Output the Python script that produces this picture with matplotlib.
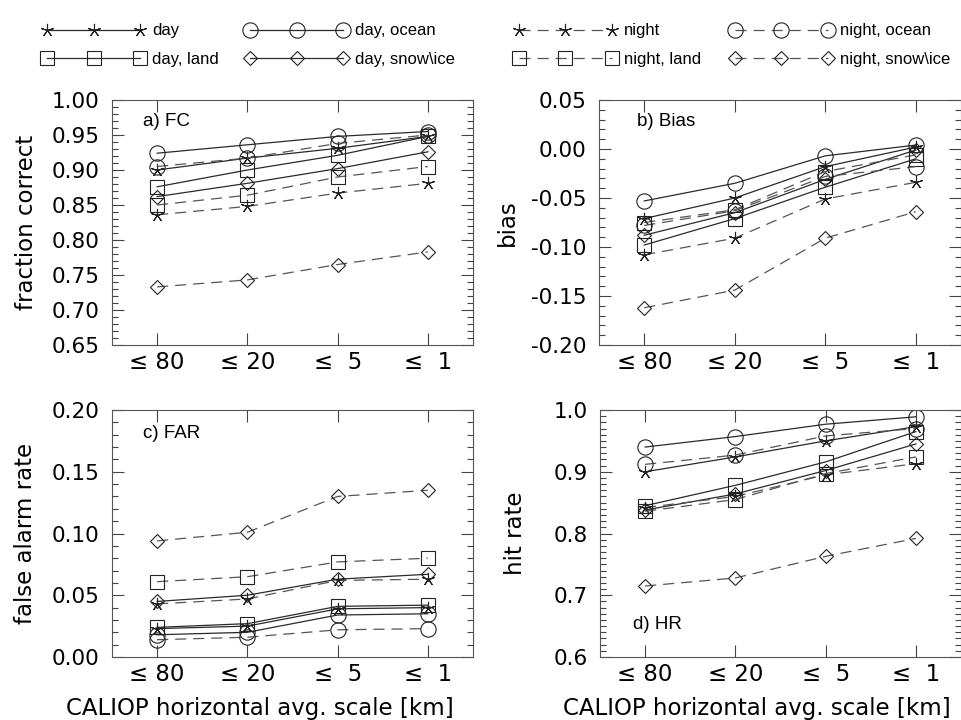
import numpy as np
import matplotlib
matplotlib.use("Agg")
import matplotlib.pyplot as plt
from matplotlib.ticker import FixedLocator, MultipleLocator

plt.rcParams["font.family"] = ["DejaVu Sans"]
plt.rcParams["axes.unicode_minus"] = False
plt.rcParams["lines.scale_dashes"] = False

# CALIOP averaging scales on the x axis
scales = ["≤ 80", "≤ 20", "≤  5", "≤  1"]

series = ["day", "day, ocean", "day, land", "day, snow\\ice",
          "night", "night, ocean", "night, land", "night, snow\\ice"]

# rows follow the order of `series`
fc_vals = [
    [0.900, 0.917, 0.931, 0.948],
    [0.924, 0.936, 0.948, 0.955],
    [0.876, 0.900, 0.921, 0.948],
    [0.862, 0.881, 0.902, 0.926],
    [0.836, 0.848, 0.867, 0.881],
    [0.905, 0.917, 0.938, 0.950],
    [0.850, 0.864, 0.890, 0.905],
    [0.733, 0.743, 0.765, 0.783],
]
bias_vals = [
    [-0.071, -0.050, -0.018, 0.002],
    [-0.053, -0.035, -0.007, 0.004],
    [-0.098, -0.071, -0.039, -0.010],
    [-0.088, -0.065, -0.031, -0.001],
    [-0.108, -0.091, -0.051, -0.034],
    [-0.078, -0.063, -0.028, -0.018],
    [-0.075, -0.062, -0.023, -0.006],
    [-0.162, -0.144, -0.091, -0.064],
]
far_vals = [
    [0.023, 0.025, 0.039, 0.040],
    [0.018, 0.020, 0.034, 0.035],
    [0.024, 0.027, 0.041, 0.042],
    [0.045, 0.050, 0.063, 0.067],
    [0.043, 0.047, 0.062, 0.063],
    [0.014, 0.016, 0.022, 0.023],
    [0.061, 0.065, 0.077, 0.080],
    [0.094, 0.101, 0.130, 0.135],
]
hr_vals = [
    [0.900, 0.924, 0.950, 0.973],
    [0.940, 0.957, 0.977, 0.989],
    [0.845, 0.878, 0.916, 0.965],
    [0.838, 0.864, 0.902, 0.945],
    [0.842, 0.860, 0.895, 0.913],
    [0.912, 0.927, 0.958, 0.970],
    [0.836, 0.855, 0.897, 0.924],
    [0.715, 0.728, 0.763, 0.792],
]

# marker per surface type, line style per day/night
marker_style = {
    "all": dict(marker=(5, 2, 0), markersize=9.5),
    "ocean": dict(marker="o", markersize=11),
    "land": dict(marker="s", markersize=10),
    "snow": dict(marker="D", markersize=7.2),
}
surfaces = ["all", "ocean", "land", "snow"]

panels = [
    # data, label, ylabel, ylim, major, fmt, box(px), tag pos, ylabel x, xlabel pos
    (fc_vals, "a) FC", "fraction correct", (0.65, 1.00), 0.05, "%.2f",
     (112, 100, 473, 345), (0.086, 0.911), -0.204, None),
    (bias_vals, "b) Bias", "bias", (-0.20, 0.05), 0.05, "%.2f",
     (599, 100, 961, 345), (0.106, 0.911), -0.222, None),
    (far_vals, "c) FAR", "false alarm rate", (0.0, 0.20), 0.05, "%.2f",
     (112, 410, 473, 657), (0.086, 0.903), -0.208, (0.41, -0.162)),
    (hr_vals, "d) HR", "hit rate", (0.6, 1.0), 0.1, "%.1f",
     (600, 410, 961, 657), (0.092, 0.13), -0.202, (0.435, -0.162)),
]

W, H = 962, 720
fig = plt.figure(figsize=(W / 100, H / 100), dpi=100)
x = np.arange(len(scales))
handles = {}

for vals, tag, ylab, ylim, major, fmt, box, tagpos, ylx, xlpos in panels:
    x0, y0, x1, y1 = box
    ax = fig.add_axes([x0 / W, 1 - y1 / H, (x1 - x0) / W, (y1 - y0) / H])
    for i, name in enumerate(series):
        night = name.startswith("night")
        surf = surfaces[i % 4]
        color = "#555555" if night else "#2a2a2a"
        ln, = ax.plot(x, vals[i], color=color, lw=0.9,
                      linestyle=(0, (8, 5)) if night else "-",
                      markerfacecolor="none", markeredgecolor="#222222",
                      markeredgewidth=0.8, **marker_style[surf])
        handles.setdefault(name, ln)

    ax.set_xlim(-0.5, 3.5)
    ax.set_ylim(*ylim)
    ax.set_xticks(x)
    ax.set_xticklabels(scales, fontsize=16.5)
    ticks = np.round(np.arange(ylim[0], ylim[1] + major / 2, major), 2) + 0.0
    ax.yaxis.set_major_locator(FixedLocator(ticks))
    ax.set_yticklabels([fmt % t for t in ticks], fontsize=15.5)
    ax.yaxis.set_minor_locator(MultipleLocator(0.01))
    ax.tick_params(which="both", direction="in", top=True, right=True,
                   color="#444444", width=0.8)
    ax.tick_params(which="major", length=8.5)
    ax.tick_params(which="minor", length=4)
    ax.tick_params(axis="x", pad=4)
    ax.tick_params(axis="y", pad=9)
    for sp in ax.spines.values():
        sp.set_color("#555555")
        sp.set_linewidth(0.8)

    ax.set_ylabel(ylab, fontsize=16.5)
    ax.yaxis.set_label_coords(ylx, 0.5)
    if xlpos is not None:
        ax.set_xlabel("CALIOP horizontal avg. scale [km]", fontsize=16.5)
        ax.xaxis.set_label_coords(*xlpos)

    ax.text(tagpos[0], tagpos[1], tag, transform=ax.transAxes,
            ha="left", va="center", fontsize=13.5,
            family=["Liberation Sans", "DejaVu Sans"])

# key across the top, four columns of two entries each
columns = [
    (["day", "day, land"], 0.0437),
    (["day, ocean", "day, snow\\ice"], 0.2547),
    (["night", "night, land"], 0.5343),
    (["night, ocean", "night, snow\\ice"], 0.7588),
]
for names, xa in columns:
    fig.legend([handles[n] for n in names], names, loc="upper left",
               bbox_to_anchor=(xa, 0.9675), numpoints=3, frameon=False,
               handlelength=6.18, handletextpad=0.42, labelspacing=0.83,
               borderpad=0, borderaxespad=0,
               prop=dict(family=["Liberation Sans", "DejaVu Sans"], size=12))

fig.savefig("out.png", dpi=100)
